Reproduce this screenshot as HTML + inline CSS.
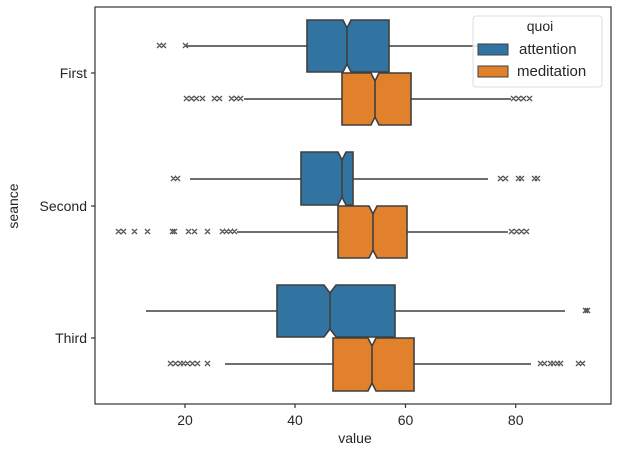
<!DOCTYPE html>
<html><head><meta charset="utf-8"><style>
html,body{margin:0;padding:0;background:#fff;}
svg{display:block;font-family:"Liberation Sans","DejaVu Sans",sans-serif;}
</style></head><body>
<svg width="631" height="450" viewBox="0 0 631 450" xmlns="http://www.w3.org/2000/svg">
<rect width="631" height="450" fill="#fff"/>
<g stroke="#3f3f3f" stroke-width="1.6" fill="none">
<line x1="185" y1="46" x2="307" y2="46"/><line x1="389" y1="46" x2="480" y2="46"/>
<line x1="244" y1="99" x2="342" y2="99"/><line x1="411" y1="99" x2="511" y2="99"/>
<line x1="190" y1="179" x2="301" y2="179"/><line x1="353" y1="179" x2="488" y2="179"/>
<line x1="237" y1="232" x2="338" y2="232"/><line x1="407" y1="232" x2="508" y2="232"/>
<line x1="146" y1="311" x2="277" y2="311"/><line x1="395" y1="311" x2="565" y2="311"/>
<line x1="225" y1="364" x2="333" y2="364"/><line x1="414" y1="364" x2="531" y2="364"/>
</g>
<g stroke="#3f3f3f" stroke-width="1.6">
<path fill="#3274a1" d="M307 20 L343 20 L347 28 L351 20 L389 20 L389 72 L351 72 L347 64 L343 72 L307 72Z"/>
<line x1="347" y1="28" x2="347" y2="64"/>
<path fill="#e1812c" d="M342 73 L371 73 L375 81 L379 73 L411 73 L411 125 L379 125 L375 117 L371 125 L342 125Z"/>
<line x1="375" y1="81" x2="375" y2="117"/>
<path fill="#3274a1" d="M301 152 L338 152 L342 160 L346 152 L353 152 L353 205 L346 205 L342 197 L338 205 L301 205Z"/>
<line x1="342" y1="160" x2="342" y2="197"/>
<path fill="#e1812c" d="M338 206 L369 206 L373 214 L377 206 L407 206 L407 258 L377 258 L373 250 L369 258 L338 258Z"/>
<line x1="373" y1="214" x2="373" y2="250"/>
<path fill="#3274a1" d="M277 285 L324 285 L330 293 L336 285 L395 285 L395 337 L336 337 L330 329 L324 337 L277 337Z"/>
<line x1="330" y1="293" x2="330" y2="329"/>
<path fill="#e1812c" d="M333 338 L368 338 L372 346 L376 338 L414 338 L414 391 L376 391 L372 383 L368 391 L333 391Z"/>
<line x1="372" y1="346" x2="372" y2="383"/>
</g>
<g stroke="#555" stroke-width="1.3" fill="none">
<path d="M157 43l5 5m0-5l-5 5 M161 43l5 5m0-5l-5 5 M183 43l5 5m0-5l-5 5 M478 43l5 5m0-5l-5 5 M486 43l5 5m0-5l-5 5"/>
<path d="M184 96l5 5m0-5l-5 5 M189 96l5 5m0-5l-5 5 M194 96l5 5m0-5l-5 5 M200 96l5 5m0-5l-5 5 M212 96l5 5m0-5l-5 5 M217 96l5 5m0-5l-5 5 M229 96l5 5m0-5l-5 5 M234 96l5 5m0-5l-5 5 M238 96l5 5m0-5l-5 5 M511 96l5 5m0-5l-5 5 M516 96l5 5m0-5l-5 5 M521 96l5 5m0-5l-5 5 M527 96l5 5m0-5l-5 5"/>
<path d="M171 176l5 5m0-5l-5 5 M175 176l5 5m0-5l-5 5 M498 176l5 5m0-5l-5 5 M503 176l5 5m0-5l-5 5 M516 176l5 5m0-5l-5 5 M519 176l5 5m0-5l-5 5 M532 176l5 5m0-5l-5 5 M535 176l5 5m0-5l-5 5"/>
<path d="M116 229l5 5m0-5l-5 5 M121 229l5 5m0-5l-5 5 M132 229l5 5m0-5l-5 5 M145 229l5 5m0-5l-5 5 M170 229l5 5m0-5l-5 5 M172 229l5 5m0-5l-5 5 M186 229l5 5m0-5l-5 5 M192 229l5 5m0-5l-5 5 M205 229l5 5m0-5l-5 5 M220 229l5 5m0-5l-5 5 M224 229l5 5m0-5l-5 5 M228 229l5 5m0-5l-5 5 M232 229l5 5m0-5l-5 5 M509 229l5 5m0-5l-5 5 M514 229l5 5m0-5l-5 5 M519 229l5 5m0-5l-5 5 M524 229l5 5m0-5l-5 5"/>
<path d="M583 308l5 5m0-5l-5 5 M585 308l5 5m0-5l-5 5"/>
<path d="M168 361l5 5m0-5l-5 5 M173 361l5 5m0-5l-5 5 M178 361l5 5m0-5l-5 5 M181 361l5 5m0-5l-5 5 M185 361l5 5m0-5l-5 5 M190 361l5 5m0-5l-5 5 M195 361l5 5m0-5l-5 5 M205 361l5 5m0-5l-5 5 M538 361l5 5m0-5l-5 5 M542 361l5 5m0-5l-5 5 M548 361l5 5m0-5l-5 5 M551 361l5 5m0-5l-5 5 M555 361l5 5m0-5l-5 5 M558 361l5 5m0-5l-5 5 M576 361l5 5m0-5l-5 5 M580 361l5 5m0-5l-5 5"/>
</g>
<rect x="95" y="7" width="516" height="397" fill="none" stroke="#333" stroke-width="1.2"/>
<g stroke="#333" stroke-width="1.2">
<line x1="91" y1="73" x2="95" y2="73"/><line x1="91" y1="206" x2="95" y2="206"/><line x1="91" y1="338" x2="95" y2="338"/>
<line x1="185" y1="404" x2="185" y2="408"/><line x1="295" y1="404" x2="295" y2="408"/><line x1="405.5" y1="404" x2="405.5" y2="408"/><line x1="515.7" y1="404" x2="515.7" y2="408"/>
</g>
<g font-size="14" fill="#262626">
<text x="87" y="78" text-anchor="end">First</text>
<text x="87" y="211" text-anchor="end">Second</text>
<text x="87" y="343" text-anchor="end">Third</text>
<text x="185" y="425" text-anchor="middle">20</text>
<text x="295" y="425" text-anchor="middle">40</text>
<text x="405.5" y="425" text-anchor="middle">60</text>
<text x="515.7" y="425" text-anchor="middle">80</text>
<text x="355" y="443" text-anchor="middle">value</text>
<text transform="translate(18,206) rotate(-90)" text-anchor="middle">seance</text>
</g>
<rect x="473" y="16" width="129" height="71" rx="3" fill="#fff" fill-opacity="0.85" stroke="#ddd"/>
<text x="540" y="31" font-size="14" text-anchor="middle" fill="#262626">quoi</text>
<rect x="478" y="44" width="30" height="11" fill="#3274a1" stroke="#3f3f3f"/>
<rect x="478" y="66" width="30" height="11" fill="#e1812c" stroke="#3f3f3f"/>
<text x="519" y="54" font-size="15" fill="#262626">attention</text>
<text x="517" y="76" font-size="15" fill="#262626">meditation</text>
</svg>
</body></html>
